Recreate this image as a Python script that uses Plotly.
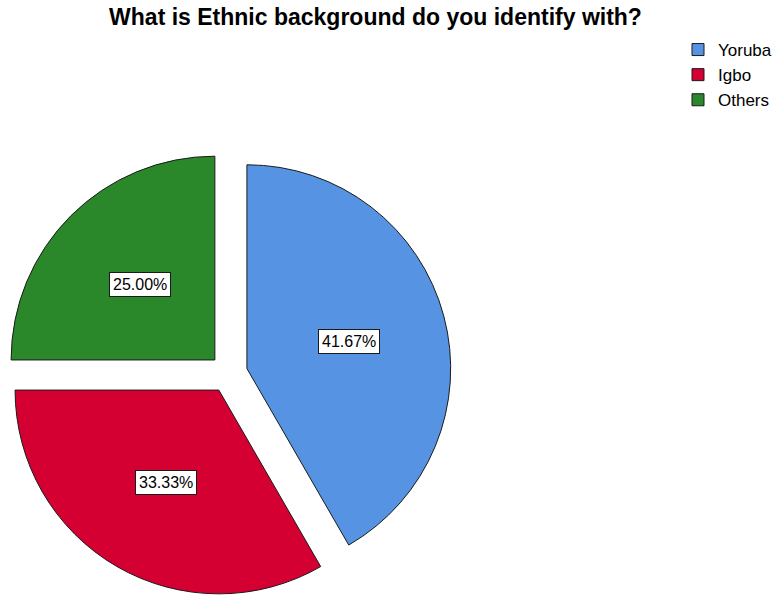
import math
import plotly.graph_objects as go

# Survey responses: ethnic background
labels = ["Yoruba", "Igbo", "Others"]
percent = [41.67, 33.33, 25.00]
colors = ["#5694E3", "#D50032", "#2A872A"]
pull = 0.094

W, H = 777, 597
# pie box in pixels (left, right, top, bottom)
box_l, box_r, box_t, box_b = 5.5, 452.5, 150, 597

fig = go.Figure(
    go.Pie(
        labels=labels,
        values=percent,
        sort=False,
        direction="clockwise",
        rotation=0,
        pull=[pull] * len(percent),
        marker=dict(colors=colors, line=dict(color="#1a1a1a", width=1)),
        textinfo="none",
        hoverinfo="label+percent",
        domain=dict(x=[box_l / W, box_r / W], y=[1 - box_b / H, 1 - box_t / H]),
    )
)

# Boxed percentage labels placed along each slice's mid-angle
size_px = min(box_r - box_l, box_b - box_t)
r_px = size_px / (2 + 2 * pull)
cx = (box_l + box_r) / 2
cy = (box_t + box_b) / 2
total = sum(percent)
start = 0.0
for val in percent:
    mid = (start + val / 2) / total * 2 * math.pi
    start += val
    dist = r_px * (pull + 0.52)
    x_px = cx + dist * math.sin(mid)
    y_px = cy - dist * math.cos(mid)
    fig.add_annotation(
        x=x_px / W, y=1 - y_px / H, xref="paper", yref="paper",
        text=f"{val:.2f}%", showarrow=False,
        font=dict(family="Liberation Sans, Arial, sans-serif", size=16, color="#000"),
        bgcolor="white", bordercolor="#1a1a1a", borderwidth=1, borderpad=3,
        xanchor="center", yanchor="middle",
    )

fig.update_layout(
    width=W, height=H,
    margin=dict(l=0, r=0, t=0, b=0),
    paper_bgcolor="white",
    plot_bgcolor="white",
    title=dict(
        text="<b>What is Ethnic background do you identify with?</b>",
        x=376.5 / W, xanchor="center", xref="paper",
        y=1 - 17 / H, yanchor="middle", yref="container",
        font=dict(family="Liberation Sans, Arial, sans-serif", size=23, color="#000"),
    ),
    legend=dict(
        x=680 / W, y=1 - 32 / H, xanchor="left", yanchor="top",
        font=dict(family="Liberation Sans, Arial, sans-serif", size=17, color="#000"),
        traceorder="normal", itemwidth=30,
        tracegroupgap=0,
    ),
    showlegend=True,
)

fig.write_html("out.html")
